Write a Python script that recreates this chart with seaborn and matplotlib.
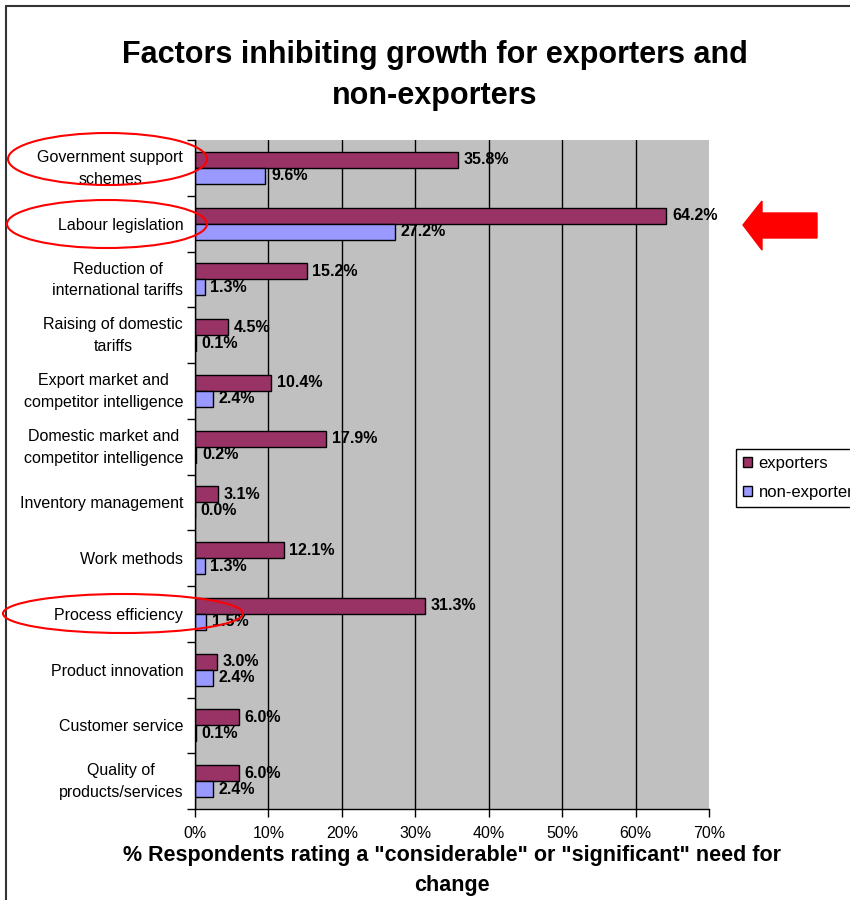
import matplotlib
matplotlib.use("Agg")
import matplotlib.pyplot as plt
import matplotlib.patches as mpatches
from matplotlib.lines import Line2D
from matplotlib.ticker import FixedLocator, PercentFormatter
from matplotlib.transforms import ScaledTranslation
import seaborn as sns
import pandas as pd

factors = [
    "Government support\nschemes",
    "Labour legislation",
    "Reduction of\ninternational tariffs",
    "Raising of domestic\ntariffs",
    "Export market and\ncompetitor intelligence",
    "Domestic market and\ncompetitor intelligence",
    "Inventory management",
    "Work methods",
    "Process efficiency",
    "Product innovation",
    "Customer service",
    "Quality of\nproducts/services",
]
exporters = [35.8, 64.2, 15.2, 4.5, 10.4, 17.9, 3.1, 12.1, 31.3, 3.0, 6.0, 6.0]
non_exporters = [9.6, 27.2, 1.3, 0.1, 2.4, 0.2, 0.0, 1.3, 1.5, 2.4, 0.1, 2.4]
groups = ["exporters", "non-exporters"]
x_ticks = [0, 10, 20, 30, 40, 50, 60, 70]

df = pd.DataFrame({
    "factor": factors * 2,
    "value": exporters + non_exporters,
    "group": [groups[0]] * len(factors) + [groups[1]] * len(factors),
})

sns.set_theme(style="white")
plt.rcParams["font.family"] = ["Liberation Sans", "DejaVu Sans"]
for key in ["text.color", "axes.labelcolor", "xtick.color", "ytick.color"]:
    plt.rcParams[key] = "black"

W, H = 850, 900
fig = plt.figure(figsize=(W / 100, H / 100), dpi=100)
ax = fig.add_axes([195 / W, 1 - 809 / H, (709 - 195) / W, (809 - 140) / H])
ax.set_facecolor("#C0C0C0")

sns.barplot(
    data=df, y="factor", x="value", hue="group", orient="h",
    order=factors, hue_order=groups,
    palette={"exporters": "#993366", "non-exporters": "#9999FF"},
    width=0.574, edgecolor="black", linewidth=1, saturation=1,
    ax=ax, legend=True,
)

for cont, vals in zip(ax.containers, [exporters, non_exporters]):
    ax.bar_label(cont, labels=[f"{v:.1f}%" for v in vals], padding=4,
                 fontsize=11.5, fontweight="bold", color="black")

ax.set_xlim(0, 70)
ax.set_ylim(len(factors) - 0.5, -0.5)
ax.xaxis.set_major_locator(FixedLocator(x_ticks))
ax.xaxis.set_major_formatter(PercentFormatter(decimals=0))
ax.tick_params(axis="x", which="major", bottom=True, length=6, width=1,
               color="black", labelsize=11.5, pad=6)
ax.tick_params(axis="y", which="major", left=False, length=0, labelsize=11.5, pad=8.5)
ax.yaxis.set_minor_locator(FixedLocator([i - 0.5 for i in range(len(factors) + 1)]))
ax.tick_params(axis="y", which="minor", left=True, length=6, width=1, color="black")
lift = ScaledTranslation(0, 3 / 72, fig.dpi_scale_trans)
for lbl in ax.get_yticklabels():
    lbl.set_linespacing(1.55)
    lbl.set_horizontalalignment("right")
    lbl.set_multialignment("center")
    if "\n" in lbl.get_text():
        lbl.set_transform(lbl.get_transform() + lift)

ax.set_axisbelow(True)
ax.xaxis.grid(True, color="black", linewidth=1)
ax.get_xgridlines()[-1].set_visible(False)
ax.yaxis.grid(False)

for side in ["top", "right"]:
    ax.spines[side].set_visible(False)
for side in ["left", "bottom"]:
    ax.spines[side].set_color("black")
    ax.spines[side].set_linewidth(1)

ax.set_ylabel("")
ax.set_xlabel('% Respondents rating a "considerable" or "significant" need for\nchange',
              fontsize=15.5, fontweight="bold", labelpad=3, linespacing=1.55)

fig.text(435 / W, 1 - 75.5 / H, "Factors inhibiting growth for exporters and\nnon-exporters",
         ha="center", va="center", fontsize=22, fontweight="bold", linespacing=1.5)

handles, labels = ax.get_legend_handles_labels()
ax.legend(handles, labels, loc="upper left", bbox_to_anchor=(736 / W, 1 - 449 / H),
          bbox_transform=fig.transFigure, borderaxespad=0, frameon=True, fancybox=False,
          edgecolor="black", framealpha=1, fontsize=12, handlelength=0.55,
          handleheight=0.55, handletextpad=0.4, borderpad=0.4, labelspacing=0.85)
ax.get_legend().get_frame().set_linewidth(1)

# chart-area border
fig.add_artist(Line2D([6 / W, 6 / W], [0, 1 - 6 / H], color="#333333", linewidth=1.5,
                      transform=fig.transFigure))
fig.add_artist(Line2D([6 / W, 1], [1 - 6 / H, 1 - 6 / H], color="#333333", linewidth=1.5,
                      transform=fig.transFigure))

# highlight ovals around key factors
for cx, cy, w, h in [(107.5, 159, 199, 52), (107, 224, 200, 48), (123, 613.5, 240, 39)]:
    fig.add_artist(mpatches.Ellipse((cx / W, 1 - cy / H), w / W, h / H, fill=False,
                                    edgecolor="#FF0000", linewidth=1.5,
                                    transform=fig.transFigure, zorder=10))

# block arrow pointing at labour legislation
arrow_pts = [(743, 225), (762, 201), (762, 213), (817, 213), (817, 238), (762, 238), (762, 250)]
fig.add_artist(mpatches.Polygon([(x / W, 1 - y / H) for x, y in arrow_pts], closed=True,
                                facecolor="#FF0000", edgecolor="#FF0000",
                                transform=fig.transFigure, zorder=10))

fig.savefig("out.png", dpi=100)
